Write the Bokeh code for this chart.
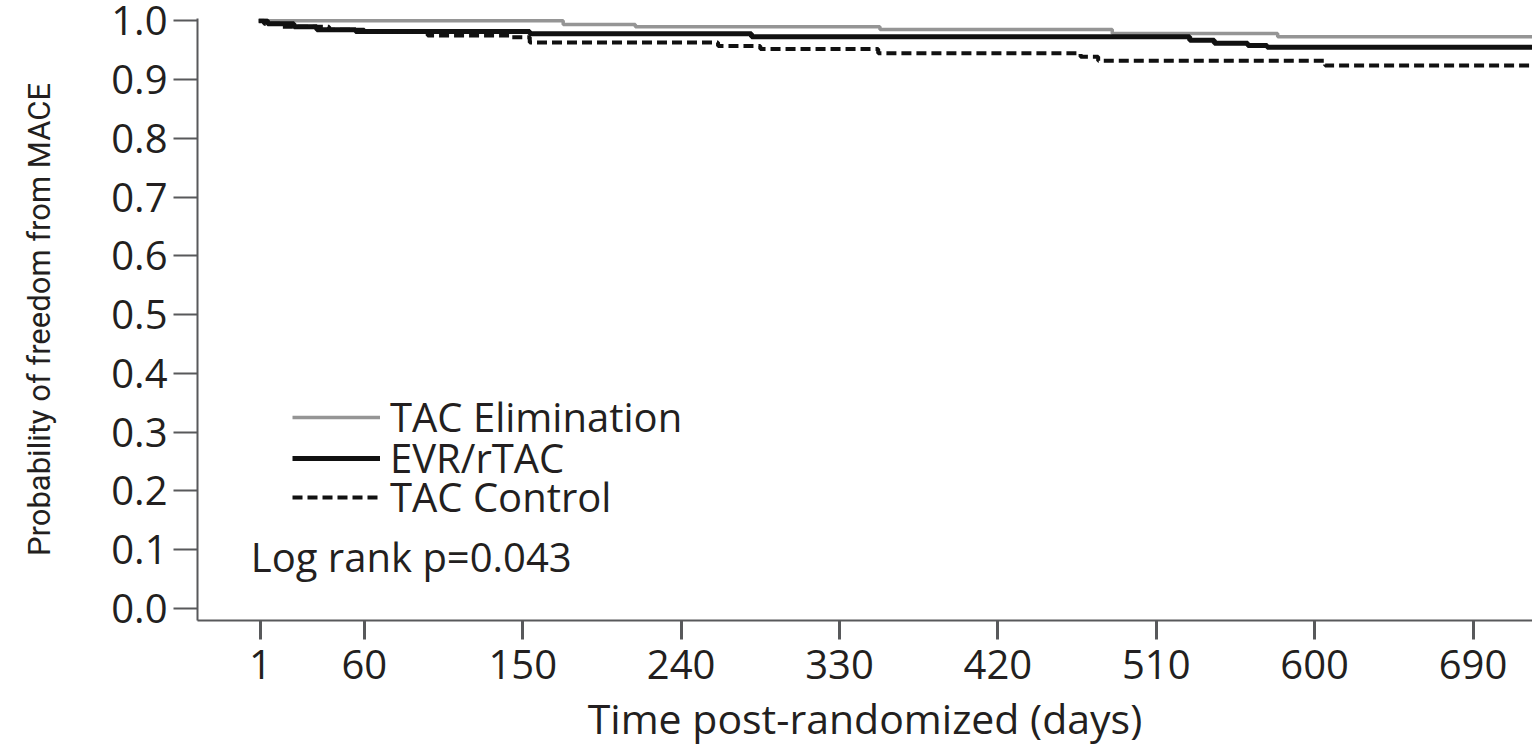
from bokeh.plotting import figure
from bokeh.models import FixedTicker, Legend, LegendItem, Label, Range1d
from bokeh.embed import file_html
from bokeh.resources import INLINE

# ---- data ----
x_ticks = [1, 60, 150, 240, 330, 420, 510, 600, 690]
y_ticks = [0.0, 0.1, 0.2, 0.3, 0.4, 0.5, 0.6, 0.7, 0.8, 0.9, 1.0]

elim_days = [0, 173, 214, 353, 485, 579, 724]
elim_surv = [1.000, 0.9937, 0.9898, 0.9852, 0.9784, 0.9728, 0.9728]

evr_days = [0, 5, 20, 33, 55, 154, 280, 529, 543, 562, 573, 724]
evr_surv = [1.000, 0.995, 0.990, 0.985, 0.982, 0.978, 0.973, 0.967, 0.962, 0.958, 0.955, 0.955]

ctrl_days = [0, 3, 12, 40, 60, 96, 143, 154, 261, 285, 352, 467, 477, 606, 724]
ctrl_surv = [1.000, 0.995, 0.990, 0.985, 0.981, 0.975, 0.972, 0.963, 0.957, 0.952,
             0.945, 0.939, 0.932, 0.924, 0.924]

series_labels = ["TAC Elimination", "EVR/rTAC", "TAC Control"]
pvalue_text = "Log rank p=0.043"

FONT = "Open Sans"
TXT = "#231f20"
AX = "#58595b"

p = figure(width=1532, height=748,
           x_range=Range1d(-34.8, 723.8), y_range=Range1d(-0.0204, 1.004),
           output_backend="svg", toolbar_location=None,
           min_border_left=197, min_border_right=0,
           min_border_top=18, min_border_bottom=128)
p.outline_line_color = None
p.grid.visible = False
p.background_fill_color = "white"

r1 = p.step(elim_days, elim_surv, mode="after", line_color="#959595", line_width=3.5)
r2 = p.step(evr_days, evr_surv, mode="after", line_color="#111111", line_width=5)
r3 = p.step(ctrl_days, ctrl_surv, mode="after", line_color="#111111", line_width=4,
            line_dash="10 5")

# axes
xa = p.xaxis[0]
xa.ticker = FixedTicker(ticks=x_ticks)
xa.minor_tick_line_color = None
xa.major_tick_in = 0
xa.major_tick_out = 19
xa.major_tick_line_width = 3
xa.major_tick_line_color = AX
xa.axis_line_color = AX
xa.axis_line_width = 2
xa.major_label_text_font = FONT
xa.major_label_text_font_size = "40px"
xa.major_label_text_color = TXT
xa.major_label_standoff = 10
xa.axis_label = "Time post-randomized (days)"
xa.axis_label_text_font = FONT
xa.axis_label_text_font_size = "41px"
xa.axis_label_text_font_style = "normal"
xa.axis_label_text_color = TXT
xa.axis_label_standoff = 8

ya = p.yaxis[0]
ya.ticker = FixedTicker(ticks=y_ticks)
ya.major_label_overrides = {t: f"{t:.1f}" for t in y_ticks}
ya.minor_tick_line_color = None
ya.major_tick_in = 0
ya.major_tick_out = 24
ya.major_tick_line_width = 2
ya.major_tick_line_color = AX
ya.axis_line_color = AX
ya.axis_line_width = 2
ya.major_label_text_font = FONT
ya.major_label_text_font_size = "40px"
ya.major_label_text_color = TXT
ya.major_label_standoff = 6
ya.axis_label = "Probability of freedom from MACE"
ya.axis_label_text_font = "Roboto"
ya.axis_label_text_font_size = "31px"
ya.axis_label_text_font_style = "normal"
ya.axis_label_text_color = TXT
ya.axis_label_standoff = 50

# legend: one entry per block so rows sit tightly
for lab, rr, vy in zip(series_labels, [r1, r2, r3], [176, 135, 96]):
    leg = Legend(items=[LegendItem(label=lab, renderers=[rr])],
                 location=(95, vy), padding=0, margin=0, spacing=0,
                 glyph_width=88, glyph_height=20, label_standoff=10,
                 label_text_font=FONT, label_text_font_size="40px",
                 label_text_color=TXT, border_line_alpha=0,
                 background_fill_alpha=0)
    p.add_layout(leg)

p.add_layout(Label(x=-4.5, y=0.089, text=pvalue_text, text_font=FONT,
                   text_font_size="40px", text_color=TXT,
                   text_baseline="alphabetic"))

open("out.html", "w").write(file_html(p, INLINE))
